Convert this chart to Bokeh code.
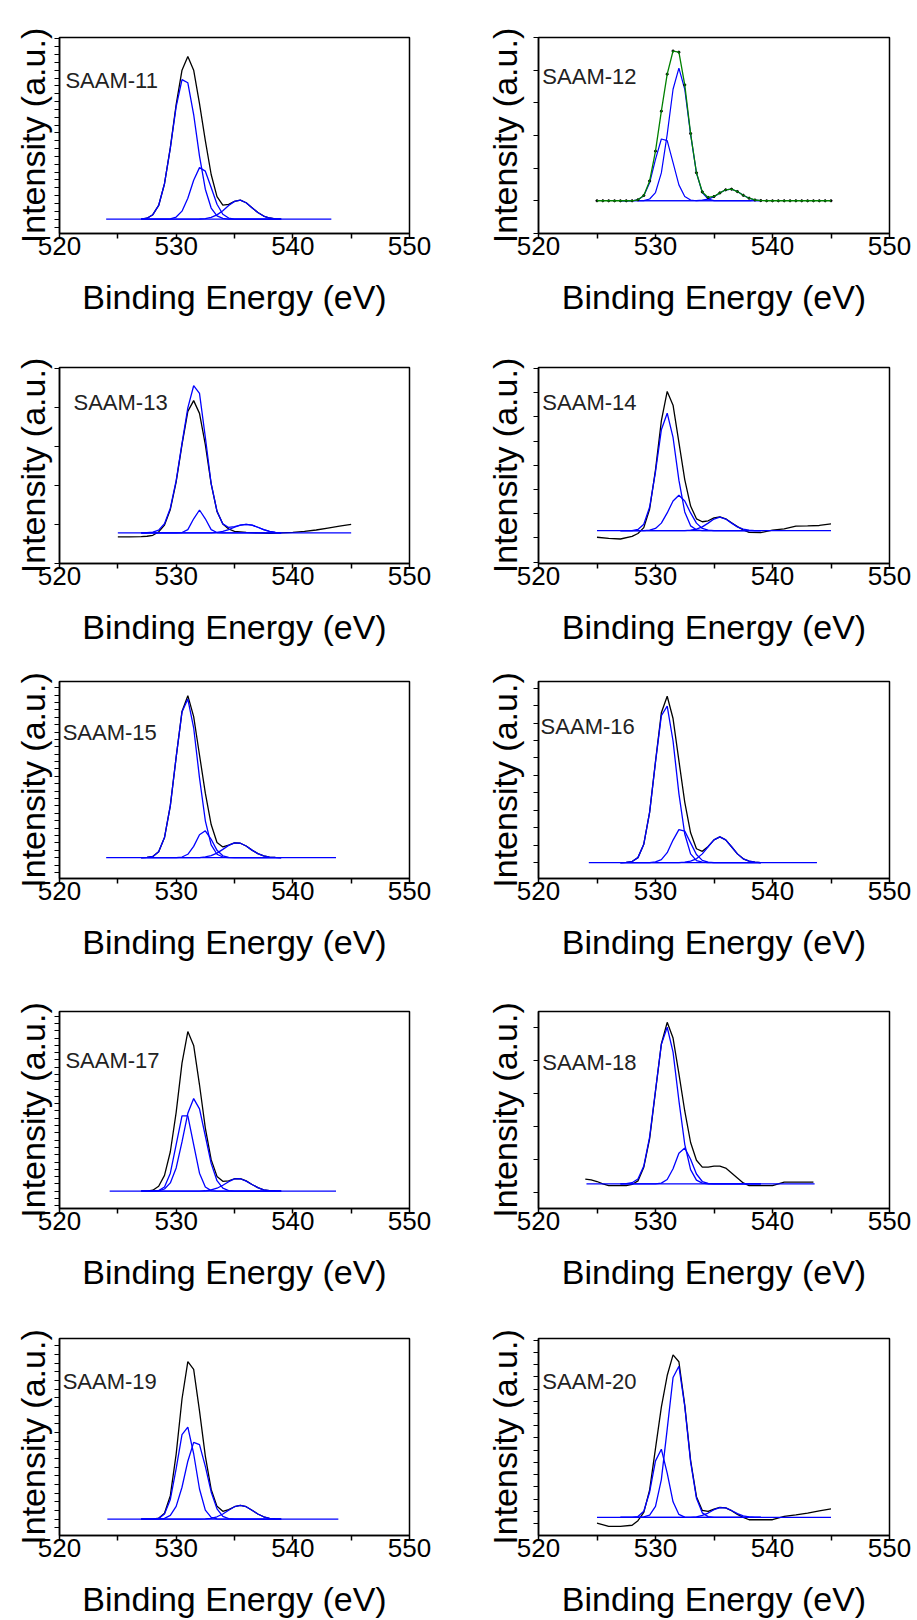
from bokeh.plotting import figure
from bokeh.layouts import column, row
from bokeh.models import FixedTicker, Label, Range1d
from bokeh.embed import file_html
from bokeh.resources import INLINE

# ---------------- data (intensity in a.u., fitted background = 0) ----------------
NAMES = ["SAAM-11", "SAAM-12", "SAAM-13", "SAAM-14", "SAAM-15",
         "SAAM-16", "SAAM-17", "SAAM-18", "SAAM-19", "SAAM-20"]
X_MAJOR = [520, 530, 540, 550]
X_MINOR = [525, 535, 545]
X_LABEL = "Binding Energy (eV)"
Y_LABEL = "Intensity (a.u.)"

# binding-energy grid (eV) of the fitted components
GRID = [527.0, 527.5, 528.0, 528.5, 529.0, 529.5, 530.0, 530.5, 531.0, 531.5, 532.0, 532.5,
        533.0, 533.5, 534.0, 534.5, 535.0, 535.5, 536.0, 536.5, 537.0, 537.5, 538.0, 538.5, 539.0]

S11_C1 = [0, 0.5, 2.3, 7.0, 18.1, 36.3, 57.4, 71.2, 69.6, 53.4, 32.2, 15.3, 5.7, 1.7, 0.4, 0, 0, 0, 0, 0, 0, 0, 0, 0, 0]
S11_C2 = [0, 0, 0, 0, 0, 0.2, 1.1, 4.1, 10.7, 19.9, 26.3, 24.5, 16.2, 7.6, 2.5, 0.6, 0, 0, 0, 0, 0, 0, 0, 0, 0]
S11_C3 = [0, 0, 0, 0, 0, 0, 0, 0, 0, 0, 0.1, 0.3, 0.9, 2.2, 4.3, 7.0, 9.1, 9.7, 8.4, 5.9, 3.4, 1.6, 0.6, 0.2, 0]
S11_RAW = [0, 0.5, 2.3, 7.0, 18.1, 36.5, 58.5, 76.0, 83.0, 76.0, 59.0, 40.1, 22.8, 11.5, 7.2, 7.6, 9.1, 9.7, 8.4, 5.9, 3.4, 1.6, 0.6, 0.2, 0]
S11_BASE = [524.0, 543.3]

S12_C1 = [0, 0, 0, 0.5, 2.6, 9.2, 21.1, 31.5, 30.7, 19.5, 8.1, 2.2, 0.4, 0, 0, 0, 0, 0, 0, 0, 0, 0, 0, 0, 0]
S12_C2 = [0, 0, 0, 0, 0.1, 0.9, 4.2, 14.2, 33.9, 56.9, 67.7, 56.9, 33.9, 14.2, 4.2, 0.9, 0.1, 0, 0, 0, 0, 0, 0, 0, 0]
S12_C3 = [0, 0, 0, 0, 0, 0, 0, 0, 0, 0, 0, 0, 0, 0.1, 0.3, 0.8, 2.1, 4.0, 5.6, 5.9, 4.7, 2.8, 1.3, 0.4, 0.1]
S12_RAW_X = [525.0, 525.5, 526.0, 526.5, 527.0, 527.5, 528.0, 528.5, 529.0, 529.5, 530.0, 530.5, 531.0, 531.5,
             532.0, 532.5, 533.0, 533.5, 534.0, 534.5, 535.0, 535.5, 536.0, 536.5, 537.0, 537.5, 538.0, 538.5,
             539.0, 539.5, 540.0, 540.5, 541.0, 541.5, 542.0, 542.5, 543.0, 543.5, 544.0, 544.5, 545.0]
S12_RAW = [0, 0, 0, 0, 0, 0, 0, 0.5, 2.7, 10.1, 25.3, 45.7, 64.6, 76.4, 75.8, 59.1, 34.3, 14.3, 4.5, 1.7, 2.2,
           4.0, 5.6, 5.9, 4.7, 2.8, 1.3, 0.4, 0.1, 0, 0, 0, 0, 0, 0, 0, 0, 0, 0, 0, 0]
S12_BASE = [528.5, 538.2]

S13_FIT = [0, 0.1, 0.4, 1.4, 4.7, 12.6, 26.7, 45.7, 63.8, 75.1, 71.2, 48.8, 25.1, 11.1, 4.6, 2.8, 3.2, 4.0, 4.4, 4.0, 2.9, 1.7, 0.8, 0.3, 0.1]
S13_C2 = [0, 0, 0, 0, 0, 0, 0, 0.2, 1.7, 7.2, 11.7, 7.2, 1.7, 0.2, 0, 0, 0, 0, 0, 0, 0, 0, 0, 0, 0]
S13_C3 = [0, 0, 0, 0, 0, 0, 0, 0, 0, 0, 0, 0, 0, 0.3, 0.8, 1.7, 2.9, 4.0, 4.4, 4.0, 2.9, 1.7, 0.8, 0.3, 0.1]
S13_RAW_X = [525, 526, 527, 527.5, 528, 528.5, 529, 529.5, 530, 530.5, 531, 531.5, 532, 532.5, 533, 533.5,
             534, 534.5, 535, 536, 537, 538, 539, 540, 541, 542, 543, 544, 545]
S13_RAW = [-2.0, -2.0, -1.9, -1.7, -1.2, 0.5, 4.0, 12.0, 26.0, 45.0, 62.0, 67.5, 61.0, 45.0, 25.0, 11.0,
           4.5, 2.0, 0.8, 0.3, 0.0, -0.2, 0.0, 0.3, 0.8, 1.5, 2.5, 3.5, 4.4]
S13_BASE = [525.0, 545.0]

S14_C1 = [0, 0, 0, 0.6, 3.2, 12.0, 30.0, 51.4, 59.9, 47.5, 25.7, 9.5, 2.4, 0.4, 0, 0, 0, 0, 0, 0, 0, 0, 0, 0, 0]
S14_C2 = [0, 0, 0, 0, 0, 0.2, 1.1, 3.8, 9.0, 15.1, 18.0, 15.1, 9.0, 3.8, 1.1, 0.2, 0, 0, 0, 0, 0, 0, 0, 0, 0]
S14_C3 = [0, 0, 0, 0, 0, 0, 0, 0, 0, 0, 0, 0, 0.2, 0.7, 1.9, 3.8, 5.9, 6.8, 5.9, 3.8, 1.9, 0.7, 0.2, 0, 0]
S14_RAW_X = [525, 526, 527, 528, 528.5, 529, 529.5, 530, 530.5, 531, 531.5, 532, 532.5, 533, 533.5, 534,
             534.5, 535, 535.5, 536, 536.5, 537, 537.5, 538, 539, 540, 541, 542, 543, 544, 545]
S14_RAW = [-3.4, -4.0, -4.3, -3.0, -1.5, 1.5, 11.0, 31.0, 56.0, 71.0, 64.0, 45.0, 26.0, 12.5, 6.0, 4.5,
           5.0, 6.5, 7.0, 6.0, 4.0, 2.0, 0.3, -0.9, -1.0, 0.2, 0.9, 2.3, 2.4, 2.6, 3.4]
S14_BASE = [525.0, 545.0]

S15_C1 = [0, 0.1, 0.6, 3.0, 10.2, 26.4, 51.0, 73.9, 80.5, 65.9, 40.5, 18.7, 6.5, 1.7, 0.3, 0, 0, 0, 0, 0, 0, 0, 0, 0, 0]
S15_C2 = [0, 0, 0, 0, 0, 0, 0, 0.3, 1.7, 5.7, 11.6, 13.6, 9.3, 3.7, 0.9, 0.1, 0, 0, 0, 0, 0, 0, 0, 0, 0]
S15_C3 = [0, 0, 0, 0, 0, 0, 0, 0, 0, 0, 0, 0.4, 1.0, 2.3, 4.2, 6.2, 7.5, 7.3, 5.9, 3.8, 2.0, 0.9, 0.3, 0.1, 0]
S15_RAW = [0, 0.1, 0.6, 3.0, 10.2, 26.4, 51.0, 74.2, 82.2, 71.6, 52.1, 32.7, 16.8, 7.7, 5.4, 6.3, 7.5, 7.3, 5.9, 3.8, 2.0, 0.9, 0.3, 0.1, 0]
S15_BASE = [524.0, 543.7]

S16_C1 = [0, 0.1, 0.5, 2.5, 9.3, 25.6, 51.0, 74.5, 79.4, 61.7, 35.0, 14.5, 4.4, 1.0, 0.2, 0, 0, 0, 0, 0, 0, 0, 0, 0, 0]
S16_C2 = [0, 0, 0, 0, 0, 0, 0.3, 1.5, 5.0, 11.4, 16.7, 16.0, 10.0, 4.1, 1.1, 0.2, 0, 0, 0, 0, 0, 0, 0, 0, 0]
S16_C3 = [0, 0, 0, 0, 0, 0, 0, 0, 0, 0, 0, 0.2, 0.7, 1.9, 4.4, 8.0, 11.5, 13.0, 11.5, 8.0, 4.4, 1.9, 0.7, 0.2, 0]
S16_RAW = [0, 0.1, 0.5, 2.5, 9.3, 25.6, 51.3, 76.0, 84.4, 73.1, 51.7, 30.7, 15.1, 7.0, 5.7, 8.2, 11.5, 13.0, 11.5, 8.0, 4.4, 1.9, 0.7, 0.2, 0]
S16_BASE = [524.3, 543.8]

S17_C1 = [0, 0, 0, 0.3, 2.1, 9.1, 23.6, 38.2, 38.2, 23.6, 9.1, 2.1, 0.3, 0, 0, 0, 0, 0, 0, 0, 0, 0, 0, 0, 0]
S17_C2 = [0, 0, 0, 0.2, 1.1, 4.2, 11.8, 25.0, 39.5, 47.0, 41.8, 28.0, 14.1, 5.3, 1.5, 0.3, 0, 0, 0, 0, 0, 0, 0, 0, 0]
S17_C3 = [0, 0, 0, 0, 0, 0, 0, 0, 0, 0, 0, 0.2, 0.6, 1.5, 3.0, 4.8, 6.2, 6.3, 5.1, 3.4, 1.8, 0.7, 0.3, 0.1, 0]
S17_RAW = [0, 0, 0.5, 2.5, 8.0, 20.0, 40.0, 65.0, 81.0, 74.0, 54.0, 32.0, 16.0, 7.5, 5.0, 5.2, 6.3, 6.4, 5.2, 3.4, 1.8, 0.7, 0.3, 0.1, 0]
S17_BASE = [524.3, 543.7]

S18_C1 = [0, 0.1, 0.6, 2.5, 9.0, 23.9, 47.4, 70.8, 79.5, 66.9, 42.3, 20.1, 7.2, 1.9, 0.4, 0, 0, 0, 0, 0, 0, 0, 0, 0, 0]
S18_C2 = [0, 0, 0, 0, 0, 0, 0, 0.4, 2.2, 7.7, 15.5, 18.2, 12.5, 5.0, 1.2, 0.2, 0, 0, 0, 0, 0, 0, 0, 0, 0]
S18_RAW_X = [524, 524.5, 525, 525.5, 526, 527, 527.5, 528, 528.5, 529, 529.5, 530, 530.5, 531, 531.5, 532,
             532.5, 533, 533.5, 534, 534.5, 535, 535.5, 536, 536.5, 537, 537.5, 538, 539, 540, 541, 542, 543, 543.5]
S18_RAW = [2.4, 2.0, 1.2, 0.0, -0.9, -0.9, -0.9, -0.3, 1.5, 8.5, 23.0, 47.0, 71.0, 82.0, 74.0, 56.0,
           37.0, 21.0, 12.0, 8.5, 8.5, 9.0, 9.0, 8.0, 5.5, 3.0, 0.5, -0.9, -0.9, -0.9, 0.9, 0.9, 0.9, 0.9]
S18_BASE = [524.1, 543.6]

S19_C1 = [0, 0, 0, 0.4, 2.6, 10.0, 25.7, 42.9, 46.7, 33.2, 15.3, 4.6, 0.9, 0.1, 0, 0, 0, 0, 0, 0, 0, 0, 0, 0, 0]
S19_C2 = [0, 0, 0, 0.1, 0.4, 1.9, 6.5, 16.2, 29.4, 39.0, 37.8, 26.8, 13.8, 5.2, 1.4, 0.3, 0, 0, 0, 0, 0, 0, 0, 0, 0]
S19_C3 = [0, 0, 0, 0, 0, 0, 0, 0, 0, 0, 0, 0.1, 0.4, 1.2, 2.6, 4.5, 6.3, 7.0, 6.3, 4.5, 2.6, 1.2, 0.4, 0.1, 0]
S19_RAW = [0, 0, 0, 0.5, 3.0, 11.9, 33.0, 61.0, 80.0, 76.0, 55.0, 32.0, 15.1, 6.5, 4.0, 4.8, 6.3, 7.0, 6.3, 4.5, 2.6, 1.2, 0.4, 0.1, 0]
S19_BASE = [524.1, 543.9]

S20_C1 = [0, 0, 0, 0.4, 3.1, 12.9, 28.7, 34.6, 22.5, 7.9, 1.5, 0.1, 0, 0, 0, 0, 0, 0, 0, 0, 0, 0, 0, 0, 0]
S20_C2 = [0, 0, 0, 0, 0.2, 1.1, 5.6, 19.2, 44.8, 71.0, 76.7, 56.4, 28.2, 9.7, 2.3, 0.4, 0, 0, 0, 0, 0, 0, 0, 0, 0]
S20_C3 = [0, 0, 0, 0, 0, 0, 0, 0, 0, 0, 0, 0, 0, 0.3, 1.0, 2.2, 3.9, 5.0, 4.8, 3.5, 1.9, 0.8, 0.2, 0, 0]
S20_RAW_X = [525, 526, 527, 528, 528.5, 529, 529.5, 530, 530.5, 531, 531.5, 532, 532.5, 533, 533.5, 534,
             534.5, 535, 535.5, 536, 536.5, 537, 537.5, 538, 539, 540, 541, 542, 543, 544, 545]
S20_RAW = [-2.9, -4.6, -4.6, -4.0, -1.7, 2.5, 14.0, 35.0, 56.0, 72.0, 82.5, 79.0, 57.0, 29.0, 10.5, 3.5,
           3.0, 4.2, 5.1, 4.8, 3.4, 1.5, 0.0, -1.2, -1.2, -1.2, 0.5, 1.3, 2.2, 3.3, 4.3]
S20_BASE = [525.0, 545.0]

# ---------------- panel tables built from the arrays ----------------
PANELS = [
    dict(comps=[S11_C1, S11_C2, S11_C3], fit=None, raw=(GRID, S11_RAW), base=S11_BASE),
    dict(comps=[S12_C1, S12_C2, S12_C3], fit="green", raw=(S12_RAW_X, S12_RAW), base=S12_BASE),
    dict(comps=[S13_FIT, S13_C2, S13_C3], fit=None, raw=(S13_RAW_X, S13_RAW), base=S13_BASE),
    dict(comps=[S14_C1, S14_C2, S14_C3], fit=None, raw=(S14_RAW_X, S14_RAW), base=S14_BASE),
    dict(comps=[S15_C1, S15_C2, S15_C3], fit=None, raw=(GRID, S15_RAW), base=S15_BASE),
    dict(comps=[S16_C1, S16_C2, S16_C3], fit=None, raw=(GRID, S16_RAW), base=S16_BASE),
    dict(comps=[S17_C1, S17_C2, S17_C3], fit=None, raw=(GRID, S17_RAW), base=S17_BASE),
    dict(comps=[S18_C1, S18_C2], fit=None, raw=(S18_RAW_X, S18_RAW), base=S18_BASE),
    dict(comps=[S19_C1, S19_C2, S19_C3], fit=None, raw=(GRID, S19_RAW), base=S19_BASE),
    dict(comps=[S20_C1, S20_C2, S20_C3], fit=None, raw=(S20_RAW_X, S20_RAW), base=S20_BASE),
]

# ---------------- axis / layout styling ----------------
Y_LO = [-7.3, -16.7, -15.6, -16.8, -10.6, -8.1, -8.8, -12.5, -8.3, -9.2]
Y_TICKS = [(0, 4), (0, 16.65), (4.4, 19.9), (8.6, 12.35), (0, 3.75),
           (0, 8.85), (0, 3.7), (-4.5, 16.8), (0, 4.4), (3.1, 6.2)]
LABEL_FX = [0.017, 0.011, 0.04, 0.011, 0.009, 0.006, 0.017, 0.011, 0.009, 0.011]
LABEL_FY = [0.78, 0.80, 0.82, 0.82, 0.74, 0.77, 0.75, 0.74, 0.78, 0.78]

COL_W = [458, 459]
COL_ML = [59, 80]
COL_MR = [49, 28]
COL_YSTAND = [3, 10]
ROW_H = [330, 320, 330, 326, 314]
ROW_TOP = [37, 37, 31, 31, 32]
ROW_FRAME = [196, 196, 197, 197, 197]
FONT = "Liberation Sans"
BLUE = "#0000ff"


def ticks_in(lo, hi, anchor, step):
    out = []
    k = int((lo - anchor) / step) - 1
    while anchor + k * step <= hi:
        v = anchor + k * step
        if lo <= v <= hi:
            out.append(round(v, 3))
        k += 1
    return out


def make_panel(i):
    r, c = divmod(i, 2)
    lo = Y_LO[i]
    hi = lo + 100
    p = figure(width=COL_W[c], height=ROW_H[r],
               x_range=Range1d(520, 550), y_range=Range1d(lo, hi),
               output_backend="svg", toolbar_location=None,
               min_border_left=COL_ML[c], min_border_right=COL_MR[c],
               min_border_top=ROW_TOP[r],
               min_border_bottom=ROW_H[r] - ROW_TOP[r] - ROW_FRAME[r])
    p.grid.visible = False
    p.outline_line_color = "black"
    p.outline_line_width = 1.5
    p.background_fill_color = "white"
    p.border_fill_color = "white"

    spec = PANELS[i]
    rx, ry = spec["raw"]
    if spec["fit"] == "green":
        for comp in spec["comps"]:
            p.line(GRID, comp, line_color=BLUE, line_width=1.2)
        p.line(spec["base"], [0, 0], line_color=BLUE, line_width=1.2)
        p.scatter(rx, ry, size=2.2, color="black")
        p.line(rx, ry, line_color="#008000", line_width=1.3)
    else:
        p.line(rx, ry, line_color="black", line_width=1.3)
        for comp in spec["comps"]:
            p.line(GRID, comp, line_color=BLUE, line_width=1.3)
        p.line(spec["base"], [0, 0], line_color=BLUE, line_width=1.3)

    # x axis
    xa = p.xaxis[0]
    xa.ticker = FixedTicker(ticks=X_MAJOR, minor_ticks=X_MINOR)
    xa.axis_label = X_LABEL
    xa.axis_label_text_font = FONT
    xa.axis_label_text_font_size = "34px"
    xa.axis_label_text_font_style = "normal"
    xa.axis_label_text_color = "black"
    xa.axis_label_standoff = 20
    xa.major_label_text_font = FONT
    xa.major_label_text_font_size = "26px"
    xa.major_label_text_color = "black"
    xa.major_label_standoff = -2
    xa.major_tick_in = 0
    xa.major_tick_out = 5
    xa.minor_tick_in = 0
    xa.minor_tick_out = 5
    xa.axis_line_width = 1.5
    xa.major_tick_line_width = 1.5
    xa.minor_tick_line_width = 1.5

    # y axis: unlabelled ticks
    anchor, step = Y_TICKS[i]
    yt = ticks_in(lo, hi, anchor, step)
    ya = p.yaxis[0]
    ya.ticker = FixedTicker(ticks=[], minor_ticks=yt)
    ya.axis_label = Y_LABEL
    ya.axis_label_text_font = FONT
    ya.axis_label_text_font_size = "34px"
    ya.axis_label_text_font_style = "normal"
    ya.axis_label_text_color = "black"
    ya.axis_label_standoff = COL_YSTAND[c]
    ya.major_tick_in = 0
    ya.major_tick_out = 5
    ya.minor_tick_in = 0
    ya.minor_tick_out = 5
    ya.axis_line_width = 1.5
    ya.minor_tick_line_width = 1.2

    p.add_layout(Label(x=520 + LABEL_FX[i] * 30, y=lo + LABEL_FY[i] * 100, text=NAMES[i],
                       text_font=FONT, text_font_size="22px", text_color="#222222",
                       text_baseline="middle", text_align="left"))
    return p


panels = [make_panel(i) for i in range(10)]
layout = column(*[row(panels[2 * r], panels[2 * r + 1]) for r in range(5)])

open("out.html", "w").write(file_html(layout, INLINE))
